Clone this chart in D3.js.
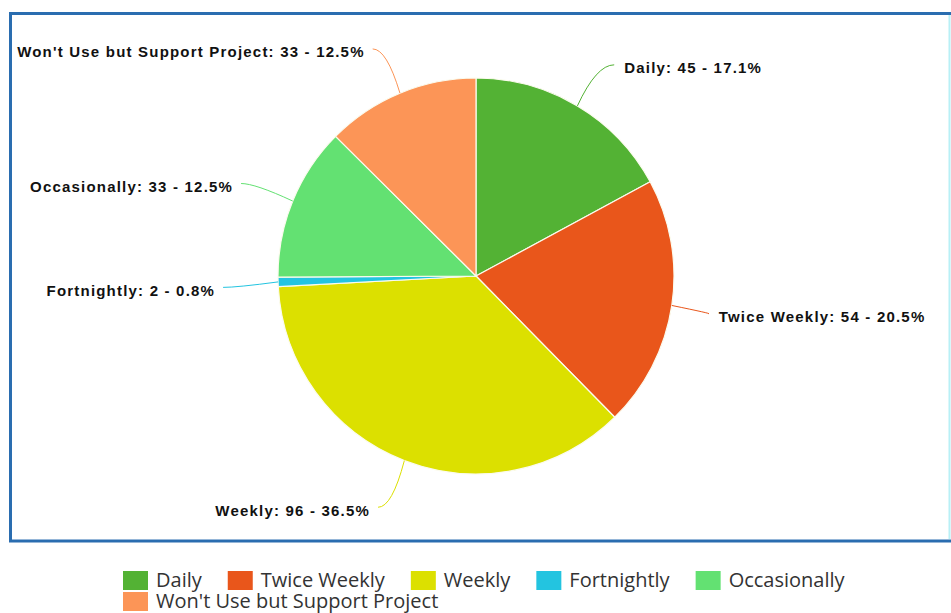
<!DOCTYPE html>
<html><head><meta charset="utf-8">
<script src="https://cdn.jsdelivr.net/npm/d3@7"></script>
<style>
html,body{margin:0;padding:0;background:#fff;}
svg{display:block;}
</style></head>
<body>
<svg id="chart" width="951" height="613"></svg>
<script>
const categories = ["Daily", "Twice Weekly", "Weekly", "Fortnightly", "Occasionally", "Won't Use but Support Project"];
const values = [45, 54, 96, 2, 33, 33];
const colors = ["#53b234", "#e9561b", "#dce000", "#23c4e0", "#63e172", "#fc9557"];

const svg = d3.select("#chart");

// Frame
svg.append("rect").attr("x", 10.5).attr("y", 13.5).attr("width", 960).attr("height", 527.5)
  .attr("fill", "#fff").attr("stroke", "#2a6db0").attr("stroke-width", 3);
svg.append("line").attr("x1", 949.5).attr("x2", 949.5).attr("y1", 15).attr("y2", 539)
  .attr("stroke", "#b8f0f6").attr("stroke-width", 2);

const cx = 476, cy = 276, r = 198;
const total = d3.sum(values);
const data = categories.map((c, i) => ({name: c, value: values[i], color: colors[i]}));

const pie = d3.pie().value(d => d.value).sort(null);
const arcs = pie(data);
const arc = d3.arc().innerRadius(0).outerRadius(r);

const g = svg.append("g").attr("transform", `translate(${cx},${cy})`);
g.selectAll("path.slice").data(arcs).enter().append("path")
  .attr("class", "slice")
  .attr("d", arc)
  .attr("fill", d => d.data.color)
  .attr("stroke", "#fbfbee").attr("stroke-width", 1.2).attr("stroke-linejoin", "round");

// Labels
const R = 243;
const fmt = d => `${d.data.name}: ${d.data.value} - ${(d.data.value / total * 100).toFixed(1)}%`;
arcs.forEach(d => {
  const a = (d.startAngle + d.endAngle) / 2;
  const s = Math.sin(a), c = Math.cos(a);
  const right = s >= 0;
  const ex = r * s, ey = -r * c;
  const ax = R * s;
  let ay = -R * c + 4 - 4 * c;
  if (Math.abs(c) < 0.1) ay += 3;
  const lx = right ? ax - 2 + 30 * Math.abs(c) : ax - 18;
  const endX = lx + (right ? -10 : 8);
  const ctrlX = ax + (right ? -4 : 4), ctrlY = ay - 3;
  g.append("path")
    .attr("d", `M${ex},${ey} Q${ctrlX},${ctrlY} ${endX},${ay - 3}`)
    .attr("fill", "none").attr("stroke", d.data.color).attr("stroke-width", 1);
  g.append("text")
    .attr("x", lx).attr("y", ay)
    .attr("dy", "0.35em")
    .attr("text-anchor", right ? "start" : "end")
    .attr("font-family", "'Liberation Sans', Arial, sans-serif")
    .attr("font-weight", "bold").attr("font-size", 15)
    .attr("letter-spacing", "1.2px")
    .attr("fill", "#111")
    .text(fmt(d));
});

// Legend
const leg = svg.append("g");
let lxPos = 123, row = 0;
const rowY = [571, 592];
data.forEach((d, i) => {
  const item = leg.append("g");
  item.append("rect").attr("width", 25).attr("height", 19).attr("fill", d.color);
  const t = item.append("text").attr("x", 33).attr("y", 16)
    .attr("font-family", "'Open Sans', sans-serif").attr("font-size", 20)
    .attr("fill", "#333").text(d.name);
  const w = t.node().getComputedTextLength();
  if (lxPos + 33 + w > 860) { row++; lxPos = 123; }
  item.attr("transform", `translate(${lxPos},${rowY[row]})`);
  lxPos += 33 + w + 26;
});
</script>
</body></html>
